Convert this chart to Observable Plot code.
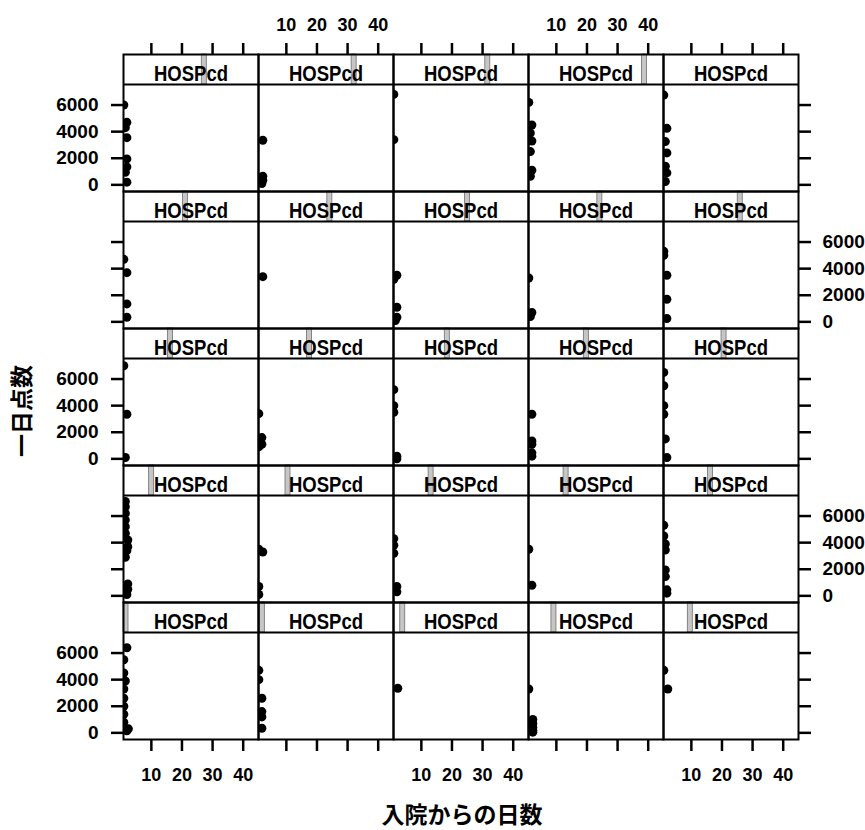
<!DOCTYPE html>
<html>
<head>
<meta charset="utf-8">
<script src="https://cdn.jsdelivr.net/npm/d3@7"></script>
<script src="https://cdn.jsdelivr.net/npm/@observablehq/plot@0.6"></script>
<style>
  body { margin: 0; background: #fff; }
  #wrap { position: relative; width: 865px; height: 830px; background: #fff; overflow: hidden; }
  #chart { position: absolute; left: 0; top: 0; }
  .title { position: absolute; font-family: "Noto Sans CJK JP", sans-serif; font-weight: bold; font-size: 23px; line-height: 24px; height: 24px; color: #000; text-align: center; white-space: nowrap; }
  #xtitle { left: 342px; width: 240px; top: 801px; }
  #ytitle { left: -40px; width: 120px; top: 399px; transform: rotate(-90deg); transform-origin: 60px 12px; }
</style>
</head>
<body>
<div id="wrap">
  <div id="chart"></div>
  <div id="xtitle" class="title">入院からの日数</div>
  <div id="ytitle" class="title">一日点数</div>
</div>
<script>
// ---- data ----
const stripLabel = "HOSPcd";
const xTicks = [10, 20, 30, 40];
const yTicks = [0, 2000, 4000, 6000];

// panels listed row by row, top row first; each point is [days since admission, daily score]
const row1 = [
  [[1,6000],[2,4700],[1.5,4300],[2,3550],[2,1950],[2,1350],[1.5,950],[2,200]],
  [[2.3,3350],[2.3,650],[2.3,350],[2,100]],
  [[1,6800],[1,3400]],
  [[1,6200],[2,4500],[1.5,3900],[2,3300],[1.5,2500],[2,1100],[1.5,650]],
  [[1,6750],[2,4250],[1.5,3250],[2,2400],[1.5,1400],[2,900],[1.5,250]]
];
const row2 = [
  [[1,4700],[2,3700],[2,1350],[2,350]],
  [[2.3,3400]],
  [[2,3500],[1,3200],[2,1100],[2,350],[1.5,100]],
  [[1,3300],[2,700],[1.5,400]],
  [[1,5300],[1,5000],[2,3500],[2,1700],[2,250]]
];
const row3 = [
  [[1,7000],[2,3350],[1.5,100]],
  [[1,3400],[2,1600],[2,1100],[1,900]],
  [[1,5200],[1,4000],[1,3500],[2,200],[2,0]],
  [[2,3350],[2,1350],[2,1100],[2,450],[2,200]],
  [[1,6500],[1,5500],[1,4000],[1,3350],[1.5,1500],[2,100]]
];
const row4 = [
  [[1.5,7100],[1.5,6700],[1.5,6200],[1.5,5700],[1.5,5200],[1.5,4700],[2.3,4200],[2.3,3700],[2,3400],[1.5,2900],[2.3,900],[2.3,500],[2,100]],
  [[1,3500],[2.3,3300],[1,700],[1,100]],
  [[1,4300],[1,3800],[1,3200],[2,700],[2,300]],
  [[1,3500],[2,800]],
  [[1,5300],[1,4500],[1.5,3900],[1.5,3450],[1.5,1950],[1.5,1450],[2,450],[2,200]]
];
const row5 = [
  [[2,6400],[1,5500],[1,4500],[1.5,3900],[1,3300],[1,2600],[1,2000],[1,1400],[1,800],[2.5,300],[2,150]],
  [[1,4700],[1,4000],[2,2600],[2,1600],[2,1200],[2,350]],
  [[2.3,3350]],
  [[1,3300],[2.3,1000],[2.3,700],[2.3,400],[2.3,200],[2.3,50]],
  [[1,4700],[2.3,3300]]
];
// position of the level indicator in each strip (fraction of strip width), row by row, top first
const stripLevel = [
  0.58, 0.69, 0.68, 0.84, null,
  0.44, 0.51, 0.53, 0.51, 0.55,
  0.33, 0.36, 0.38, 0.41, 0.43,
  0.19, 0.20, 0.26, 0.26, 0.33,
  0.00, 0.01, 0.05, 0.17, 0.18
];
const levelWidth = 1 / 27;

// which rows/cols carry tick labels (lattice alternation)
const yLabelLeftRows = [0, 2, 4];
const yLabelRightRows = [1, 3];
const xLabelTopCols = [1, 3];
const xLabelBottomCols = [0, 2, 4];

// ---- layout ----
const X_DOMAIN = [0.9, 45];
const Y_BOTTOM = -500, Y_PANEL_TOP = 7550, Y_STRIP_TOP = 9800;
const NR = 5, NC = 5;

const rows = [row1, row2, row3, row4, row5];
const points = [];
rows.forEach((r, ri) => r.forEach((panel, ci) => panel.forEach(([day, score]) => points.push({row: ri, col: ci, day, score}))));

const strips = [];
for (let r = 0; r < NR; r++) for (let c = 0; c < NC; c++) strips.push({row: r, col: c, level: stripLevel[r * NC + c]});
const span = X_DOMAIN[1] - X_DOMAIN[0];

const yLabLeft = [], yLabRight = [], xLabTop = [], xLabBottom = [];
yLabelLeftRows.forEach(r => yTicks.forEach(v => yLabLeft.push({row: r, col: 0, v})));
yLabelRightRows.forEach(r => yTicks.forEach(v => yLabRight.push({row: r, col: NC - 1, v})));
xLabelTopCols.forEach(c => xTicks.forEach(v => xLabTop.push({row: 0, col: c, v})));
xLabelBottomCols.forEach(c => xTicks.forEach(v => xLabBottom.push({row: NR - 1, col: c, v})));

const FONT = "'Liberation Sans', Arial, sans-serif";
const stripMid = (Y_PANEL_TOP + Y_STRIP_TOP) / 2;

const chart = Plot.plot({
  width: 865,
  height: 830,
  marginTop: 53,
  marginBottom: 90,
  marginLeft: 123,
  marginRight: 67,
  style: {background: "transparent", overflow: "visible", fontFamily: FONT, color: "black"},
  fx: {domain: d3.range(NC), axis: null, padding: 0},
  fy: {domain: d3.range(NR), axis: null, padding: 0},
  x: {domain: X_DOMAIN, axis: null},
  y: {domain: [Y_BOTTOM, Y_STRIP_TOP], axis: null},
  marks: [
    Plot.dot(points, {fx: "col", fy: "row", x: "day", y: "score", r: 4.5, fill: "black", stroke: "none", clip: true}),
    Plot.rect(strips, {fx: "col", fy: "row", y1: Y_PANEL_TOP, y2: Y_STRIP_TOP, fill: "white"}),
    Plot.rect(strips.filter(d => d.level != null), {
      fx: "col", fy: "row",
      x1: d => X_DOMAIN[0] + d.level * span,
      x2: d => X_DOMAIN[0] + (d.level + levelWidth) * span,
      y1: Y_PANEL_TOP, y2: Y_STRIP_TOP,
      fill: "#c6c6c6", stroke: "#6e6e6e", strokeWidth: 0.8
    }),
    Plot.text(strips, {fx: "col", fy: "row", y: stripMid, text: () => stripLabel, fontSize: 22, fontWeight: "bold", dy: 4, fill: "black"}),
    Plot.ruleY([Y_PANEL_TOP], {stroke: "black", strokeWidth: 2}),
    Plot.frame({stroke: "black", strokeWidth: 2}),
    Plot.axisX({anchor: "top", ticks: xTicks, tickSize: 12, tickFormat: () => "", label: null, strokeWidth: 2.5}),
    Plot.axisX({anchor: "bottom", ticks: xTicks, tickSize: 12, tickFormat: () => "", label: null, strokeWidth: 2.5}),
    Plot.axisY({anchor: "left", ticks: yTicks, tickSize: 12, tickFormat: () => "", label: null, strokeWidth: 2.5}),
    Plot.axisY({anchor: "right", ticks: yTicks, tickSize: 12, tickFormat: () => "", label: null, strokeWidth: 2.5}),
    Plot.text(xLabTop, {fx: "col", fy: "row", x: "v", text: d => String(d.v), frameAnchor: "top", lineAnchor: "middle", dy: -29, fontSize: 18, fontWeight: "bold", fill: "black"}),
    Plot.text(xLabBottom, {fx: "col", fy: "row", x: "v", text: d => String(d.v), frameAnchor: "bottom", lineAnchor: "middle", dy: 36, fontSize: 18, fontWeight: "bold", fill: "black"}),
    Plot.text(yLabLeft, {fx: "col", fy: "row", y: "v", text: d => String(d.v), frameAnchor: "left", textAnchor: "end", dx: -25, fontSize: 19, fontWeight: "bold", fill: "black"}),
    Plot.text(yLabRight, {fx: "col", fy: "row", y: "v", text: d => String(d.v), frameAnchor: "right", textAnchor: "start", dx: 24, fontSize: 19, fontWeight: "bold", fill: "black"})
  ]
});
// condense the strip labels (lattice strip font is narrow)
chart.querySelectorAll("text").forEach(t => {
  if (t.textContent === stripLabel) {
    t.setAttribute("textLength", "74");
    t.setAttribute("lengthAdjust", "spacingAndGlyphs");
  }
});
document.getElementById("chart").appendChild(chart);
</script>
</body>
</html>
